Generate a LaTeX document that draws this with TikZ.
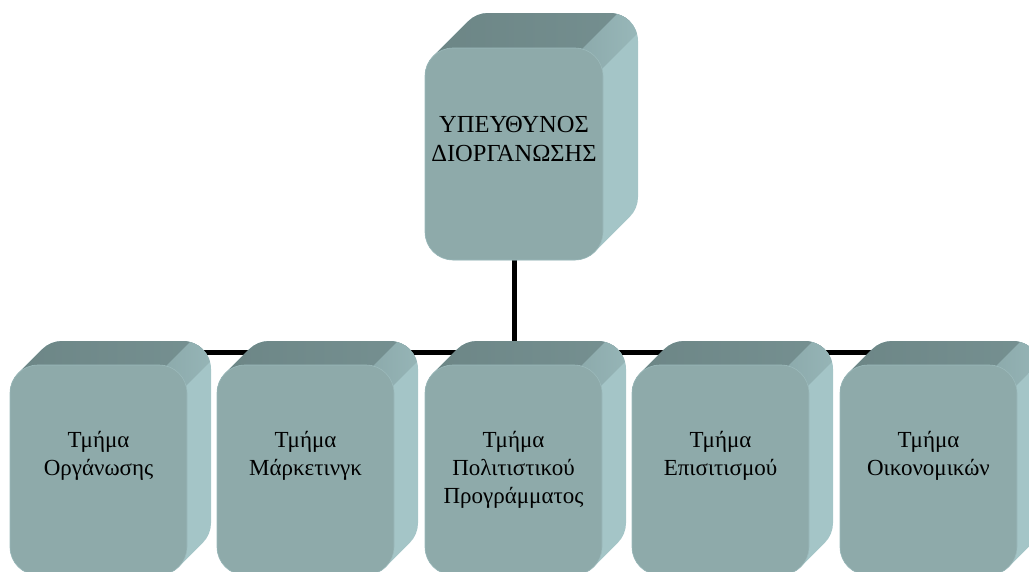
\documentclass[tikz,border=0pt]{standalone}
\usepackage{fontspec}
\setmainfont{Liberation Serif}
\pgfdeclarelayer{bg}
\pgfsetlayers{bg,main}
\definecolor{frontc}{RGB}{142,170,170}
\definecolor{topl}{RGB}{106,131,131}
\definecolor{topr}{RGB}{120,147,148}
\definecolor{sidec}{RGB}{164,197,199}
\definecolor{edgec}{RGB}{156,186,187}
\tikzset{
  face/.style={draw=edgec, line width=0.6pt, fill=frontc, rectangle, inner sep=0pt},
  conn/.style={line width=5pt, black},
  lbl/.style={align=center, inner sep=0pt, anchor=north, text=black},
  toplbl/.style={lbl, font=\fontsize{24.5}{29}\selectfont},
  botlbl/.style={lbl, font=\fontsize{23}{28}\selectfont}
}
% hull of the extruded rounded box
\newcommand{\hullpath}[1]{%
  \path[#1] ({\Xa+\D+\R-\K},{\Yt+\D-\R+\K}) arc[start angle=135,end angle=90,radius=\R pt]
    -- ({\Xb+\D-\R},{\Yt+\D}) arc[start angle=90,end angle=0,radius=\R pt]
    -- ({\Xb+\D},{\Yb+\D+\R}) arc[start angle=0,end angle=-45,radius=\R pt]
    -- ({\Xb-\R+\K},{\Yb+\R-\K}) arc[start angle=-45,end angle=-90,radius=\R pt]
    -- ({\Xa+\R},{\Yb}) arc[start angle=-90,end angle=-180,radius=\R pt]
    -- ({\Xa},{\Yt-\R}) arc[start angle=180,end angle=135,radius=\R pt]
    -- cycle;}
% #1 name, #2 x0 (px), #3 y0 (px, from top), #4 width, #5 height, #6 depth, #7 radius
\newcommand{\cubebox}[7]{%
  \pgfmathsetmacro\Xa{#2}%
  \pgfmathsetmacro\Xb{#2+#4}%
  \pgfmathsetmacro\Yt{-#3}%
  \pgfmathsetmacro\Yb{-#3-#5}%
  \pgfmathsetmacro\D{#6}%
  \pgfmathsetmacro\R{#7}%
  \pgfmathsetmacro\K{0.7071*#7}%
  \hullpath{fill=sidec}
  \begin{scope}
    \hullpath{clip}
    \shade[left color=topl, right color=topr]
      ({\Xa-50},{\Yt-\R}) -- ({\Xa-50},{\Yt+4*\D}) -- ({\Xb-\R+4*\D},{\Yt-\R+4*\D})
      -- ({\Xb-\R-\D},{\Yt-\R-\D}) -- cycle;
    \begin{scope}[shift={({\Xb-\R},{\Yt-\R})}, rotate=-45]
      \shade[left color=topr, right color=sidec] (-14,-120) rectangle (14,160);
    \end{scope}
  \end{scope}
  \node[face, minimum width=#4pt, minimum height=#5pt, rounded corners=#7pt]
    (#1) at ({\Xa+#4/2},{(\Yt+\Yb)/2}) {};
}
\begin{document}
\begin{tikzpicture}[x=1pt,y=1pt]
\useasboundingbox (0,0) rectangle (1029,-571);

\cubebox{top}{425}{48}{178}{212}{35}{28}
\node[toplbl] (ttop) at (514,-116) {ΥΠΕΥΘΥΝΟΣ\\ΔΙΟΡΓΑΝΩΣΗΣ};

\cubebox{b1}{10}{365}{177}{210}{24}{28}
\cubebox{b2}{217}{365}{177}{210}{24}{28}
\cubebox{b3}{425}{365}{177}{210}{24}{28}
\cubebox{b4}{632}{365}{177}{210}{24}{28}
\cubebox{b5}{840}{365}{177}{210}{24}{28}

\node[botlbl] (l1) at (b1.north |- 0,-431) {Τμήμα\\Οργάνωσης};
\node[botlbl] (l2) at (b2.north |- 0,-431) {Τμήμα\\Μάρκετινγκ};
\node[botlbl] (l3) at (b3.north |- 0,-431) {Τμήμα\\Πολιτιστικού\\Προγράμματος};
\node[botlbl] (l4) at (b4.north |- 0,-431) {Τμήμα\\Επισιτισμού};
\node[botlbl] (l5) at (b5.north |- 0,-431) {Τμήμα\\Οικονομικών};

\coordinate (hub) at (514,-352);
\begin{pgfonlayer}{bg}
  \draw[conn] (top.south) -- (hub);
  \draw[conn] (b1.center |- hub) -- (b5.center |- hub);
\end{pgfonlayer}
\end{tikzpicture}
\end{document}
